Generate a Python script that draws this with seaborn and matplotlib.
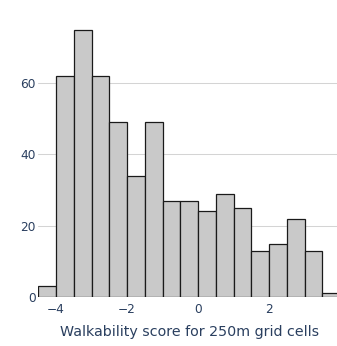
import numpy as np
import pandas as pd
import matplotlib
matplotlib.use("Agg")
import matplotlib.pyplot as plt
import seaborn as sns

# Bin edges (width 0.5) and counts
bin_edges = [-4.5, -4.0, -3.5, -3.0, -2.5, -2.0, -1.5, -1.0, -0.5, 0.0,
             0.5, 1.0, 1.5, 2.0, 2.5, 3.0, 3.5, 4.0]
counts = [3, 62, 75, 62, 49, 34, 49, 27, 27, 24, 29, 25, 13, 15, 22, 13, 1]
x_ticks = [-4, -2, 0, 2]
y_ticks = [0, 20, 40, 60]
x_title = "Walkability score for 250m grid cells"

centers = [(a + b) / 2 for a, b in zip(bin_edges[:-1], bin_edges[1:])]
df = pd.DataFrame({"score": centers, "n": counts})

sns.set_style("white")
plt.rcParams["font.family"] = ["DejaVu Sans"]

W, H = 337, 346
fig = plt.figure(figsize=(W / 100, H / 100), dpi=100)
left, right_px, top_px, bottom_px = 38.3, 340.0, 15.5, 297.0
ax = fig.add_axes([left / W, (H - bottom_px) / H,
                   (right_px - left) / W, (bottom_px - top_px) / H])

sns.histplot(data=df, x="score", weights="n", bins=bin_edges, ax=ax,
             color="#c9c9c9", edgecolor="#1a1a1a", linewidth=0.9, alpha=1.0,
             zorder=3)

ax.set_xlim(bin_edges[0], bin_edges[-1])
ax.set_ylim(0, 78.95)
ax.set_xticks(x_ticks)
ax.set_yticks(y_ticks)
ax.grid(axis="y", color="#d4d4d4", linewidth=0.75, zorder=0)
ax.set_axisbelow(True)
for s in ax.spines.values():
    s.set_visible(False)

txt_color = "#2a3f5f"
ax.tick_params(axis="both", length=0, labelsize=8.7, labelcolor=txt_color)
ax.tick_params(axis="x", pad=4)
ax.tick_params(axis="y", pad=2)
ax.set_ylabel("")
ax.set_xlabel(x_title, fontsize=10.3, color=txt_color, labelpad=7)

fig.savefig("out.png", dpi=100)
